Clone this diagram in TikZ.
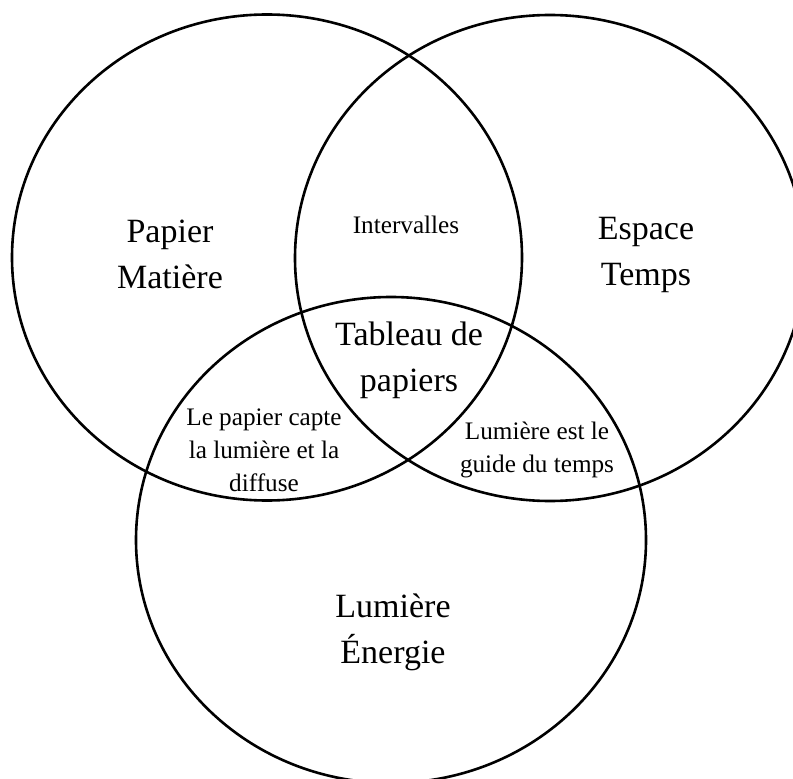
\documentclass[tikz,border=0pt]{standalone}
\usepackage{fontspec}
\setmainfont{Liberation Serif}
\usetikzlibrary{shapes.geometric}
\tikzset{
  ens/.style  ={draw,ellipse,inner sep=0pt,minimum width=255pt,minimum height=243pt,line width=1.3pt},
  grand/.style={align=center,inner sep=1pt,font=\fontsize{17pt}{23pt}\selectfont},
  petit/.style={align=center,inner sep=1pt,font=\fontsize{12.6pt}{16.5pt}\selectfont},
}

\begin{document}
\begin{tikzpicture}[x=0.5pt,y=0.5pt]
\useasboundingbox (0,0) rectangle (793,778);

% ===================== ENSEMBLES ====================================
\node[ens] (matiere) at (267,520.5) {};
\node[ens] (espace)  at (550,520)   {};
\node[ens] (lumiere) at (391,238)   {};

% ===================== TEXTES =======================================
\node[grand] (tmat) at (170,524) {Papier\\Mati\`ere};
\node[grand] (tesp) at (646,523) {Espace\\Temps};
\node[grand] (tlum) at (393,146) {Lumi\`ere\\\'Energie};
\node[grand] (ttab) at (409,418) {Tableau de\\papiers};

\node[petit] (tint) at (406,553) {Intervalles};
\node[petit] (tcap) at (264,328) {Le papier capte\\la lumi\`ere et la\\diffuse};
\node[petit] (tgui) at (537,328) {Lumi\`ere est le\\guide du temps};

\end{tikzpicture}
\end{document}
